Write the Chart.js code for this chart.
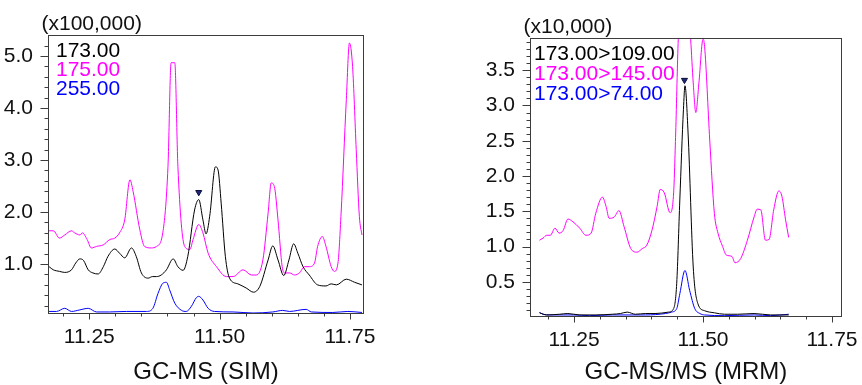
<!DOCTYPE html>
<html>
<head>
<meta charset="utf-8">
<script src="https://cdn.jsdelivr.net/npm/chart.js@4.4.1/dist/chart.umd.min.js"></script>
<style>
  html, body { margin: 0; padding: 0; background: #fff; }
  #wrap { position: relative; width: 862px; height: 385px; }
  canvas { position: absolute; top: 0; }
  #sim { left: 0; }
  #mrm { left: 431px; }
</style>
</head>
<body>
<div id="wrap">
  <canvas id="sim" width="431" height="385"></canvas>
  <canvas id="mrm" width="431" height="385"></canvas>
</div>
<script>
// ---- GC-MS (SIM), intensities in x100,000 ----
const simTime173 = [11.173, 11.181, 11.193, 11.203, 11.216, 11.224, 11.232, 11.239, 11.248, 11.257, 11.267, 11.277, 11.286, 11.299, 11.308, 11.318, 11.331, 11.340, 11.350, 11.363, 11.371, 11.379, 11.388, 11.398, 11.411, 11.420, 11.430, 11.439, 11.452, 11.460, 11.468, 11.474, 11.481, 11.492, 11.497, 11.503, 11.511, 11.519, 11.535, 11.551, 11.565, 11.577, 11.593, 11.602, 11.612, 11.623, 11.633, 11.642, 11.650, 11.660, 11.672, 11.688, 11.704, 11.714, 11.724, 11.743, 11.759, 11.773];
const simInt173 = [0.95, 0.89, 0.86, 0.84, 0.89, 1.02, 1.10, 1.07, 0.89, 0.83, 0.81, 0.95, 1.15, 1.29, 1.21, 1.12, 1.31, 1.15, 0.83, 0.73, 0.76, 0.76, 0.79, 0.89, 1.10, 0.95, 0.88, 1.15, 2.04, 2.24, 1.85, 1.58, 1.92, 2.87, 2.81, 2.17, 1.15, 0.73, 0.62, 0.54, 0.46, 0.57, 1.08, 1.35, 1.08, 0.78, 1.08, 1.39, 1.21, 0.95, 0.79, 0.60, 0.58, 0.62, 0.60, 0.71, 0.65, 0.60];

const simTime175 = [11.173, 11.181, 11.193, 11.203, 11.216, 11.222, 11.232, 11.237, 11.246, 11.254, 11.264, 11.277, 11.289, 11.299, 11.308, 11.318, 11.328, 11.334, 11.347, 11.356, 11.369, 11.379, 11.391, 11.401, 11.407, 11.414, 11.420, 11.433, 11.443, 11.449, 11.460, 11.468, 11.478, 11.494, 11.513, 11.526, 11.545, 11.561, 11.570, 11.583, 11.593, 11.599, 11.605, 11.612, 11.620, 11.625, 11.634, 11.644, 11.653, 11.663, 11.672, 11.682, 11.688, 11.697, 11.704, 11.714, 11.720, 11.727, 11.733, 11.743, 11.749, 11.755, 11.762, 11.768, 11.773];
const simInt175 = [1.64, 1.64, 1.50, 1.56, 1.64, 1.60, 1.56, 1.60, 1.47, 1.31, 1.34, 1.37, 1.47, 1.50, 1.60, 1.85, 2.62, 2.40, 1.66, 1.34, 1.31, 1.34, 1.60, 2.88, 4.87, 4.87, 2.88, 1.34, 1.28, 1.47, 1.76, 1.60, 1.21, 0.95, 0.76, 0.76, 0.89, 0.79, 0.79, 1.08, 1.98, 2.56, 2.49, 1.85, 0.95, 0.83, 0.83, 0.79, 0.83, 0.95, 0.95, 1.02, 1.34, 1.53, 1.34, 0.95, 0.86, 1.02, 1.98, 4.16, 5.25, 4.80, 3.20, 1.92, 1.56];

const simTime255 = [11.173, 11.187, 11.203, 11.216, 11.232, 11.248, 11.264, 11.289, 11.321, 11.360, 11.372, 11.382, 11.391, 11.398, 11.404, 11.414, 11.427, 11.436, 11.446, 11.455, 11.460, 11.468, 11.478, 11.490, 11.526, 11.564, 11.602, 11.621, 11.634, 11.666, 11.676, 11.717, 11.746, 11.773];
const simInt255 = [0.09, 0.09, 0.15, 0.09, 0.12, 0.15, 0.08, 0.08, 0.09, 0.09, 0.15, 0.44, 0.63, 0.65, 0.51, 0.25, 0.11, 0.09, 0.19, 0.35, 0.38, 0.31, 0.15, 0.09, 0.08, 0.06, 0.08, 0.11, 0.09, 0.13, 0.08, 0.07, 0.09, 0.07];

const simPeak = [{ x: 11.460, y: 2.38 }];

// ---- GC-MS/MS (MRM), intensities in x10,000 ----
const mrmTime109 = [11.183, 11.197, 11.222, 11.238, 11.261, 11.292, 11.324, 11.340, 11.353, 11.369, 11.388, 11.407, 11.433, 11.443, 11.449, 11.455, 11.462, 11.465, 11.471, 11.481, 11.490, 11.503, 11.522, 11.542, 11.567, 11.599, 11.631, 11.666];
const mrmInt109 = [0.06, 0.03, 0.04, 0.05, 0.03, 0.03, 0.04, 0.05, 0.07, 0.04, 0.05, 0.05, 0.07, 0.12, 0.48, 1.66, 2.94, 3.28, 2.61, 0.71, 0.19, 0.09, 0.06, 0.04, 0.04, 0.05, 0.03, 0.03];

const mrmTime145 = [11.183, 11.190, 11.197, 11.204, 11.213, 11.221, 11.229, 11.238, 11.248, 11.261, 11.273, 11.283, 11.292, 11.305, 11.312, 11.318, 11.328, 11.337, 11.347, 11.360, 11.372, 11.382, 11.391, 11.401, 11.411, 11.417, 11.425, 11.436, 11.443, 11.447, 11.452, 11.464, 11.476, 11.481, 11.486, 11.492, 11.500, 11.503, 11.513, 11.522, 11.529, 11.538, 11.545, 11.556, 11.562, 11.573, 11.586, 11.599, 11.605, 11.612, 11.621, 11.628, 11.637, 11.647, 11.653, 11.660, 11.666];
const mrmInt145 = [1.09, 1.12, 1.16, 1.16, 1.26, 1.19, 1.23, 1.39, 1.35, 1.26, 1.16, 1.19, 1.47, 1.70, 1.57, 1.40, 1.42, 1.51, 1.28, 0.97, 0.92, 0.97, 1.02, 1.23, 1.57, 1.81, 1.76, 1.48, 1.76, 2.61, 3.94, 5.20, 3.94, 3.32, 2.90, 3.32, 3.94, 3.84, 2.51, 1.47, 1.19, 1.00, 0.88, 0.86, 0.77, 0.83, 1.09, 1.42, 1.53, 1.52, 1.09, 1.10, 1.52, 1.79, 1.71, 1.38, 1.13];

const mrmTime74 = [11.183, 11.190, 11.203, 11.248, 11.280, 11.324, 11.388, 11.427, 11.439, 11.449, 11.455, 11.465, 11.474, 11.484, 11.494, 11.503, 11.542, 11.599, 11.631, 11.666];
const mrmInt74 = [0.065, 0.04, 0.03, 0.03, 0.02, 0.03, 0.03, 0.05, 0.07, 0.12, 0.33, 0.66, 0.38, 0.12, 0.05, 0.03, 0.02, 0.03, 0.02, 0.04];

const mrmPeak = [{ x: 11.464, y: 3.36 }];

const FONT = 'Liberation Sans, Arial, sans-serif';
const INK = '#111';

function toPoints(times, values) {
    return times.map((t, i) => ({ x: t, y: values[i] }));
}

function isMultiple(v, step) {
    const r = v / step;
    return Math.abs(r - Math.round(r)) < 1e-6;
}

// frame, tick marks, legend text and unit label
const chromDecor = {
    id: 'chromDecor',
    afterDraw(chart, args, o) {
        const { ctx, chartArea: a, scales: { x, y } } = chart;
        ctx.save();
        ctx.strokeStyle = '#3c3c3c';
        ctx.lineWidth = 1;
        const L = Math.round(a.left) - 0.5, R = Math.round(a.right) + 0.5;
        const T = Math.round(a.top) - 0.5, B = Math.round(a.bottom) + 0.5;
        ctx.strokeRect(L, T, R - L, B - T);

        ctx.beginPath();
        x.ticks.forEach(t => {
            const px = Math.round(x.getPixelForValue(t.value)) + 0.5;
            const len = isMultiple(t.value, 0.25) ? 6 : 3;
            ctx.moveTo(px, B);
            ctx.lineTo(px, B + len);
        });
        y.ticks.forEach(t => {
            const py = Math.round(y.getPixelForValue(t.value)) + 0.5;
            const len = isMultiple(t.value, o.yMajor) ? 8 : 4;
            ctx.moveTo(L, py);
            ctx.lineTo(L - len, py);
        });
        ctx.stroke();

        ctx.font = '21px ' + FONT;
        ctx.textBaseline = 'alphabetic';
        ctx.textAlign = 'left';
        ctx.fillStyle = INK;
        ctx.fillText(o.unit, a.left - 7.5, a.top - 6);

        chart.data.datasets.filter(d => d.legend).forEach((d, i) => {
            ctx.fillStyle = d.borderColor;
            ctx.fillText(d.label, a.left + o.dx, a.top + 21 + i * o.gap);
        });
        ctx.restore();
    }
};

function traceSet(label, color, times, values) {
    return {
        label: label,
        legend: true,
        data: toPoints(times, values),
        borderColor: color,
        borderWidth: 1,
        pointRadius: 0,
        cubicInterpolationMode: 'monotone',
        fill: false
    };
}

function peakSet(points) {
    return {
        label: 'peak',
        data: points,
        showLine: false,
        pointStyle: 'triangle',
        rotation: 180,
        pointRadius: 3.5,
        backgroundColor: '#1d2a7a',
        borderColor: '#0b0b3a',
        borderWidth: 1
    };
}

function renderChrom(id, cfg) {
    new Chart(document.getElementById(id), {
        type: 'line',
        data: { datasets: cfg.datasets },
        options: {
            responsive: false,
            animation: false,
            devicePixelRatio: 1,
            layout: { padding: cfg.padding },
            plugins: {
                legend: { display: false },
                tooltip: { enabled: false },
                chromDecor: cfg.decor
            },
            scales: {
                x: {
                    type: 'linear',
                    min: cfg.xMin,
                    max: cfg.xMax,
                    grid: { display: false },
                    border: { display: false },
                    ticks: {
                        stepSize: 0.05,
                        autoSkip: false,
                        maxRotation: 0,
                        includeBounds: false,
                        padding: 4,
                        color: INK,
                        font: { family: FONT, size: 21 },
                        callback: v => isMultiple(v, 0.25) ? v.toFixed(2) : ''
                    },
                    title: {
                        display: true,
                        text: cfg.title,
                        color: INK,
                        padding: { top: 0, bottom: -2 },
                        font: { family: FONT, size: 24 }
                    },
                    afterFit: s => { s.height = cfg.xHeight; }
                },
                y: {
                    min: cfg.yMin,
                    max: cfg.yMax,
                    grid: { display: false },
                    border: { display: false },
                    ticks: {
                        stepSize: cfg.yStep,
                        autoSkip: false,
                        includeBounds: false,
                        padding: 8,
                        color: INK,
                        font: { family: FONT, size: 21 },
                        callback: v => isMultiple(v, cfg.decor.yMajor) ? v.toFixed(1) : ''
                    },
                    afterFit: s => { s.width = cfg.yWidth; }
                }
            }
        },
        plugins: [chromDecor]
    });
}

renderChrom('sim', {
    title: 'GC-MS (SIM)',
    xMin: 11.1728, xMax: 11.775,
    yMin: 0.06, yMax: 5.384, yStep: 0.2,
    padding: { left: 0, top: 36, right: 68, bottom: 0 },
    yWidth: 49, xHeight: 72,
    decor: { unit: '(x100,000)', yMajor: 1, dx: 7, gap: 19 },
    datasets: [
        traceSet('173.00', '#000000', simTime173, simInt173),
        traceSet('175.00', '#ff00ff', simTime175, simInt175),
        traceSet('255.00', '#0000ff', simTime255, simInt255),
        peakSet(simPeak)
    ]
});

renderChrom('mrm', {
    title: 'GC-MS/MS (MRM)',
    xMin: 11.1665, xMax: 11.767,
    yMin: 0.015, yMax: 3.943, yStep: 0.1,
    padding: { left: 0, top: 39, right: 18, bottom: 0 },
    yWidth: 100, xHeight: 69,
    decor: { unit: '(x10,000)', yMajor: 0.5, dx: 3, gap: 20 },
    datasets: [
        traceSet('173.00>109.00', '#000000', mrmTime109, mrmInt109),
        traceSet('173.00>145.00', '#ff00ff', mrmTime145, mrmInt145),
        traceSet('173.00>74.00', '#0000ff', mrmTime74, mrmInt74),
        peakSet(mrmPeak)
    ]
});
</script>
</body>
</html>
